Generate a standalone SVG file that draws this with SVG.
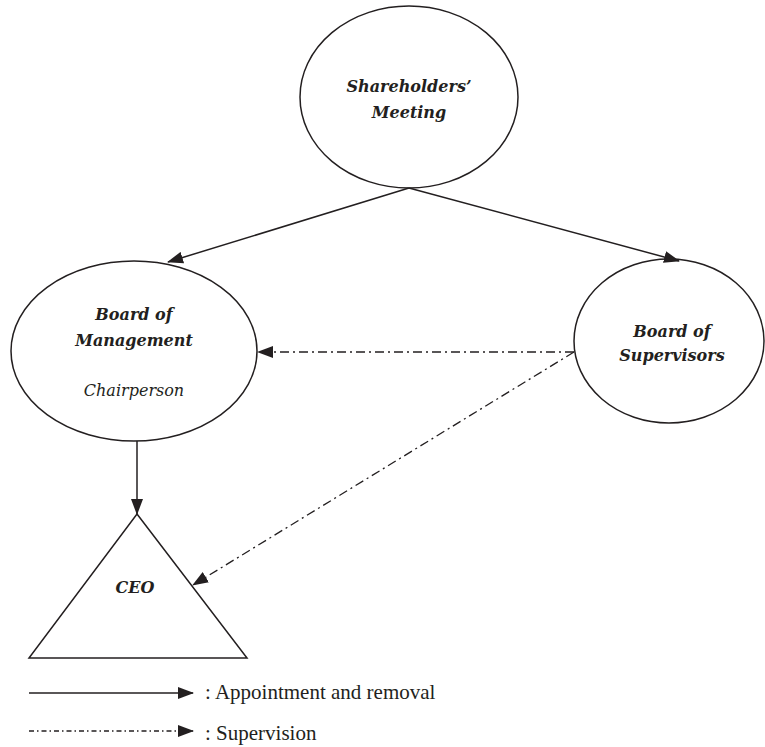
<svg xmlns="http://www.w3.org/2000/svg" width="765" height="747" viewBox="0 0 765 747">
<defs>
<marker id="ah" markerWidth="16" markerHeight="12" refX="15" refY="6" orient="auto" markerUnits="userSpaceOnUse">
<path d="M0,0 L16,6 L0,12 Z" fill="#231f20"/>
</marker>
<style>
.shape{fill:#fff;stroke:#231f20;stroke-width:1.5}
.solid{stroke:#231f20;stroke-width:1.5;fill:none}
.dash{stroke:#231f20;stroke-width:1.3;fill:none;stroke-dasharray:9 4 2 4}
.dashs{stroke:#231f20;stroke-width:1.3;fill:none;stroke-dasharray:5 3 1.5 3}
.bi{font-family:"DejaVu Serif",serif;font-weight:bold;font-style:italic;font-size:16px;fill:#231f20;text-anchor:middle}
.it{font-family:"DejaVu Serif",serif;font-style:italic;font-size:16px;fill:#231f20;text-anchor:middle}
.lg{font-family:"Liberation Serif",serif;font-size:21px;fill:#231f20}
</style>
</defs>
<rect width="765" height="747" fill="#fff"/>
<g id="shareholders">
<ellipse class="shape" cx="409" cy="97" rx="109" ry="91"/>
<text class="bi" x="409" y="92">Shareholders’</text>
<text class="bi" x="409" y="118">Meeting</text>
</g>
<g id="management">
<ellipse class="shape" cx="134" cy="351" rx="123" ry="90"/>
<text class="bi" x="134" y="320">Board of</text>
<text class="bi" x="134" y="346">Management</text>
<text class="it" x="134" y="396">Chairperson</text>
</g>
<g id="supervisors">
<ellipse class="shape" cx="669" cy="341" rx="95" ry="82"/>
<text class="bi" x="672" y="337">Board of</text>
<text class="bi" x="672" y="361">Supervisors</text>
</g>
<g id="ceo">
<polygon class="shape" points="137,514 247,658 29,658"/>
<text class="bi" x="135" y="593">CEO</text>
</g>
<g id="connectors">
<line class="solid" x1="409" y1="188" x2="168" y2="262" marker-end="url(#ah)"/>
<line class="solid" x1="409" y1="188" x2="679" y2="261" marker-end="url(#ah)"/>
<line class="solid" x1="137" y1="441" x2="137" y2="514" marker-end="url(#ah)"/>
<line class="dash" x1="574" y1="352" x2="258" y2="352" marker-end="url(#ah)"/>
<line class="dash" x1="574" y1="352" x2="193" y2="585" marker-end="url(#ah)"/>
</g>
<g id="legend">
<line class="solid" x1="29" y1="693" x2="193" y2="693" marker-end="url(#ah)"/>
<text class="lg" x="205" y="699">: Appointment and removal</text>
<line class="dashs" x1="29" y1="731" x2="193" y2="731" marker-end="url(#ah)"/>
<text class="lg" x="205" y="740">: Supervision</text>
</g>
</svg>
